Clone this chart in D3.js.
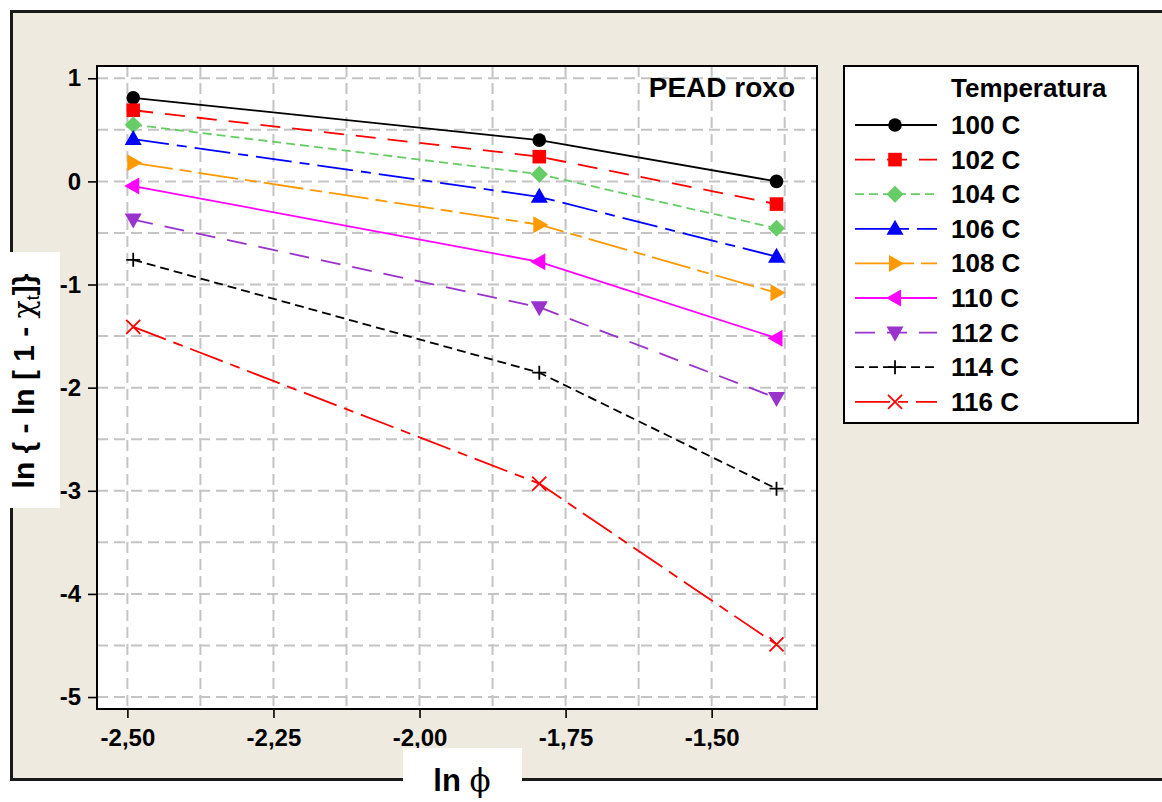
<!DOCTYPE html>
<html>
<head>
<meta charset="utf-8">
<script src="https://cdn.jsdelivr.net/npm/d3@7"></script>
<style>
  html, body { margin: 0; padding: 0; background: #ffffff; }
  svg { display: block; }
  text { font-family: "Liberation Sans", Arial, sans-serif; font-weight: bold; fill: #000; }
</style>
</head>
<body>
<svg id="chart" width="1162" height="802"></svg>
<script>
// ln(phi) for the three heating rates
const lnPhi = [-2.49, -1.795, -1.389];

// ln{-ln[1 - X(t)]} at each temperature
const t100 = [0.81, 0.40, 0.00];
const t102 = [0.69, 0.24, -0.22];
const t104 = [0.55, 0.07, -0.455];
const t106 = [0.41, -0.15, -0.73];
const t108 = [0.18, -0.42, -1.08];
const t110 = [-0.045, -0.78, -1.52];
const t112 = [-0.37, -1.22, -2.10];
const t114 = [-0.76, -1.855, -2.98];
const t116 = [-1.41, -2.93, -4.49];

const seriesNames = ["100 C", "102 C", "104 C", "106 C", "108 C", "110 C", "112 C", "114 C", "116 C"];
const seriesValues = [t100, t102, t104, t106, t108, t110, t112, t114, t116];

const xTicks = [-2.50, -2.25, -2.00, -1.75, -1.50];
const xGrid = [-2.5, -2.375, -2.25, -2.125, -2.0, -1.875, -1.75, -1.625, -1.5, -1.375];
const yTicks = [1, 0, -1, -2, -3, -4, -5];
const yGrid = [1, 0.5, 0, -0.5, -1, -1.5, -2, -2.5, -3, -3.5, -4, -4.5, -5];

// line and marker style per series
const styles = [
  { color: "#000000", dash: null,           marker: "circle" },
  { color: "#ff0000", dash: "20,12",        marker: "square" },
  { color: "#66cc66", dash: "9,5",          marker: "diamond" },
  { color: "#0000ff", dash: "36,8,10,8",    marker: "triUp" },
  { color: "#ff9900", dash: "40,7,12,7",    marker: "triRight" },
  { color: "#ff00ff", dash: null,           marker: "triLeft" },
  { color: "#9933cc", dash: "20,12",        marker: "triDown" },
  { color: "#000000", dash: "9,5",          marker: "plus" },
  { color: "#ff0000", dash: "35,8,10,8",    marker: "cross" }
];

const svg = d3.select("#chart");

// page background and frame
svg.append("rect").attr("x", 0).attr("y", 0).attr("width", 1162).attr("height", 802).attr("fill", "#ffffff");
svg.append("rect").attr("x", 11.5).attr("y", 11.5).attr("width", 1170).attr("height", 768)
  .attr("fill", "#eeeae0").attr("stroke", "#1a1a1a").attr("stroke-width", 3);

const plot = { left: 97, top: 66, right: 817, bottom: 709 };

const x = d3.scaleLinear().domain([-2.552, -1.3197]).range([plot.left, plot.right]);
const y = d3.scaleLinear().domain([-5.116, 1.119]).range([plot.bottom, plot.top]);

// plot area
svg.append("rect").attr("x", plot.left).attr("y", plot.top)
  .attr("width", plot.right - plot.left).attr("height", plot.bottom - plot.top)
  .attr("fill", "#ffffff");

// grid
const grid = svg.append("g").attr("stroke", "#c4c4c4").attr("stroke-width", 2).attr("stroke-dasharray", "11,6");
grid.selectAll("line.v").data(xGrid).join("line").attr("class", "v")
  .attr("x1", d => x(d)).attr("x2", d => x(d)).attr("y1", plot.top).attr("y2", plot.bottom);
grid.selectAll("line.h").data(yGrid).join("line").attr("class", "h")
  .attr("y1", d => y(d)).attr("y2", d => y(d)).attr("x1", plot.left).attr("x2", plot.right);

// axes
const fmtX = d => d.toFixed(2).replace(".", ",").replace("−", "-");
const xAxis = d3.axisBottom(x).tickValues(xTicks).tickSize(9).tickPadding(11).tickFormat(fmtX);
const yAxis = d3.axisLeft(y).tickValues(yTicks).tickSize(9).tickPadding(7).tickFormat(d => String(d).replace("−", "-"));

const gx = svg.append("g").attr("transform", `translate(0,${plot.bottom})`).call(xAxis);
const gy = svg.append("g").attr("transform", `translate(${plot.left},0)`).call(yAxis);
[gx, gy].forEach(g => {
  g.select(".domain").remove();
  g.selectAll(".tick line").attr("stroke", "#000").attr("stroke-width", 1.6);
  g.selectAll(".tick text").attr("font-size", 24).attr("font-weight", "bold")
    .attr("font-family", "'Liberation Sans', Arial, sans-serif").attr("fill", "#000");
});

// plot frame
svg.append("rect").attr("x", plot.left).attr("y", plot.top)
  .attr("width", plot.right - plot.left).attr("height", plot.bottom - plot.top)
  .attr("fill", "none").attr("stroke", "#000").attr("stroke-width", 2);

// marker drawing
function drawMarker(g, type, color) {
  switch (type) {
    case "circle":
      g.append("circle").attr("r", 6.8).attr("fill", color); break;
    case "square":
      g.append("rect").attr("x", -6.8).attr("y", -6.8).attr("width", 13.6).attr("height", 13.6).attr("fill", color); break;
    case "diamond":
      g.append("path").attr("d", "M0,-8.5L8.5,0L0,8.5L-8.5,0Z").attr("fill", color); break;
    case "triUp":
      g.append("path").attr("d", "M0,-9L8.5,6L-8.5,6Z").attr("fill", color); break;
    case "triDown":
      g.append("path").attr("d", "M0,9L8.5,-6L-8.5,-6Z").attr("fill", color); break;
    case "triRight":
      g.append("path").attr("d", "M9,0L-6,-8.5L-6,8.5Z").attr("fill", color); break;
    case "triLeft":
      g.append("path").attr("d", "M-9,0L6,-8.5L6,8.5Z").attr("fill", color); break;
    case "plus":
      g.append("path").attr("d", "M-7,0H7M0,-7V7").attr("stroke", color).attr("stroke-width", 1.8).attr("fill", "none"); break;
    case "cross":
      g.append("path").attr("d", "M-7,-7L7,7M-7,7L7,-7").attr("stroke", color).attr("stroke-width", 1.8).attr("fill", "none"); break;
  }
}

const line = d3.line().x(d => x(d[0])).y(d => y(d[1]));

seriesValues.forEach((vals, i) => {
  const st = styles[i];
  const pts = vals.map((v, j) => [lnPhi[j], v]);
  svg.append("path").datum(pts).attr("d", line)
    .attr("fill", "none").attr("stroke", st.color).attr("stroke-width", 1.8)
    .attr("stroke-dasharray", st.dash);
  pts.forEach(p => {
    const g = svg.append("g").attr("transform", `translate(${x(p[0])},${y(p[1])})`);
    drawMarker(g, st.marker, st.color);
  });
});

// inset title
svg.append("text").attr("x", 795).attr("y", 97).attr("text-anchor", "end")
  .attr("font-size", 28).text("PEAD roxo");

// legend
const leg = svg.append("g");
leg.append("rect").attr("x", 844).attr("y", 66).attr("width", 294).attr("height", 357)
  .attr("fill", "#ffffff").attr("stroke", "#000").attr("stroke-width", 2);
leg.append("text").attr("x", 951).attr("y", 97).attr("font-size", 26).text("Temperatura");
seriesNames.forEach((name, i) => {
  const st = styles[i];
  const cy = 125 + i * 34.6;
  leg.append("line").attr("x1", 855).attr("x2", 937).attr("y1", cy).attr("y2", cy)
    .attr("stroke", st.color).attr("stroke-width", 1.8).attr("stroke-dasharray", st.dash);
  const g = leg.append("g").attr("transform", `translate(895,${cy})`);
  drawMarker(g, st.marker, st.color);
  leg.append("text").attr("x", 951).attr("y", cy + 9).attr("font-size", 26).text(name);
});

// y axis title
svg.append("rect").attr("x", 0).attr("y", 252).attr("width", 60).attr("height", 256).attr("fill", "#ffffff");
const yt = svg.append("text").attr("transform", "translate(34,381) rotate(-90)")
  .attr("text-anchor", "middle").attr("font-size", 30);
yt.append("tspan").text("ln { - ln [ 1 - ");
yt.append("tspan").attr("font-weight", "normal").attr("font-family", "'DejaVu Serif', serif").text("χ");
yt.append("tspan").attr("font-size", 18).attr("font-weight", "normal").attr("dy", 5).text("t");
yt.append("tspan").attr("dy", -5).text("]}");

// x axis title
svg.append("rect").attr("x", 403).attr("y", 748).attr("width", 119).attr("height", 54).attr("fill", "#ffffff");
const xt = svg.append("text").attr("x", 462).attr("y", 791).attr("text-anchor", "middle").attr("font-size", 31);
xt.append("tspan").text("ln ");
xt.append("tspan").attr("font-weight", "normal").attr("font-family", "'DejaVu Serif', serif").text("ϕ");
</script>
</body>
</html>
